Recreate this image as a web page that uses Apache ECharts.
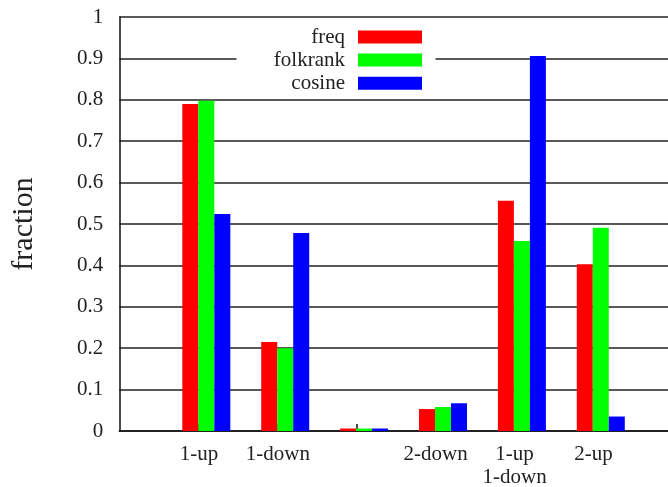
<!DOCTYPE html>
<html>
<head>
<meta charset="utf-8">
<script src="https://cdn.jsdelivr.net/npm/echarts@6/dist/echarts.min.js"></script>
<style>
html,body{margin:0;padding:0;background:#fff;}
#c{width:668px;height:487px;}
</style>
</head>
<body>
<div id="c"></div>
<script>
var categories = ["1-up", "1-down", "", "2-down", "1-up\n1-down", "2-up"];
var seriesNames = ["freq", "folkrank", "cosine"];
var freq = [0.790, 0.215, 0.006, 0.053, 0.556, 0.403];
var folkrank = [0.798, 0.200, 0.006, 0.058, 0.459, 0.491];
var cosine = [0.524, 0.478, 0.006, 0.067, 0.906, 0.035];
var yTicks = [0, 0.1, 0.2, 0.3, 0.4, 0.5, 0.6, 0.7, 0.8, 0.9, 1];
var colors = ["#ff0000", "#00ff00", "#0000ff"];

var tickShift = -0.093;
var labelPos = categories.map(function (c, i) { return i + tickShift; });
var FONT = "Liberation Serif";

function pairs(arr) { return arr.map(function (v, i) { return [i, v]; }); }
var values = [freq, folkrank, cosine];

var chart = echarts.init(document.getElementById('c'), null, {renderer: 'canvas'});
var series = seriesNames.map(function (n, k) {
  return {
    name: n, type: 'bar', data: pairs(values[k]),
    barWidth: 16, barGap: '0%',
    itemStyle: {color: colors[k]},
    animation: false
  };
});
var legendRows = [26.5, 49.5, 72.8];
var legends = seriesNames.map(function (n, k) {
  return {
    data: [n], right: 246, top: legendRows[k], orient: 'vertical', align: 'right',
    padding: 0, itemWidth: 64, itemHeight: 13, z: 10,
    icon: 'rect',
    textStyle: {fontFamily: FONT, fontSize: 21, color: '#222', padding: [0, 8, 0, 0]},
    selectedMode: false
  };
});
chart.setOption({
  animation: false,
  backgroundColor: '#fff',
  grid: {left: 119.3, right: 0, top: 17, bottom: 56, containLabel: false, outerBoundsMode: 'none'},
  legend: legends,
  graphic: [{type: 'rect', shape: {x: 236.5, y: 22, width: 199, height: 72}, style: {fill: '#fff'}, z: 3, silent: true}],
  xAxis: {
    type: 'value', min: -1.103, max: 5.852,
    splitLine: {show: false},
    axisLine: {show: true, onZero: false, lineStyle: {color: '#111', width: 1.5}},
    axisTick: {show: true, inside: true, length: 7, customValues: labelPos, lineStyle: {color: '#111', width: 1.5}},
    axisLabel: {
      customValues: labelPos, margin: 12,
      fontFamily: FONT, fontSize: 21, color: '#222', lineHeight: 23,
      formatter: function (v) { return categories[Math.round(v - tickShift)]; }
    }
  },
  yAxis: {
    type: 'value', min: 0, max: 1, interval: 0.1,
    name: 'fraction', nameLocation: 'middle', nameRotate: 90, nameGap: 80,
    nameTextStyle: {fontFamily: FONT, fontSize: 30, color: '#222'},
    axisLine: {show: true, onZero: false, lineStyle: {color: '#111', width: 1.5}},
    axisTick: {show: false},
    splitLine: {show: true, lineStyle: {color: '#222', width: 1.5}},
    axisLabel: {
      margin: 16, fontFamily: FONT, fontSize: 21, color: '#222',
      formatter: function (v) {
        var best = yTicks.reduce(function (a, b) { return Math.abs(b - v) < Math.abs(a - v) ? b : a; });
        return String(best);
      }
    }
  },
  series: series
});
</script>
</body>
</html>
